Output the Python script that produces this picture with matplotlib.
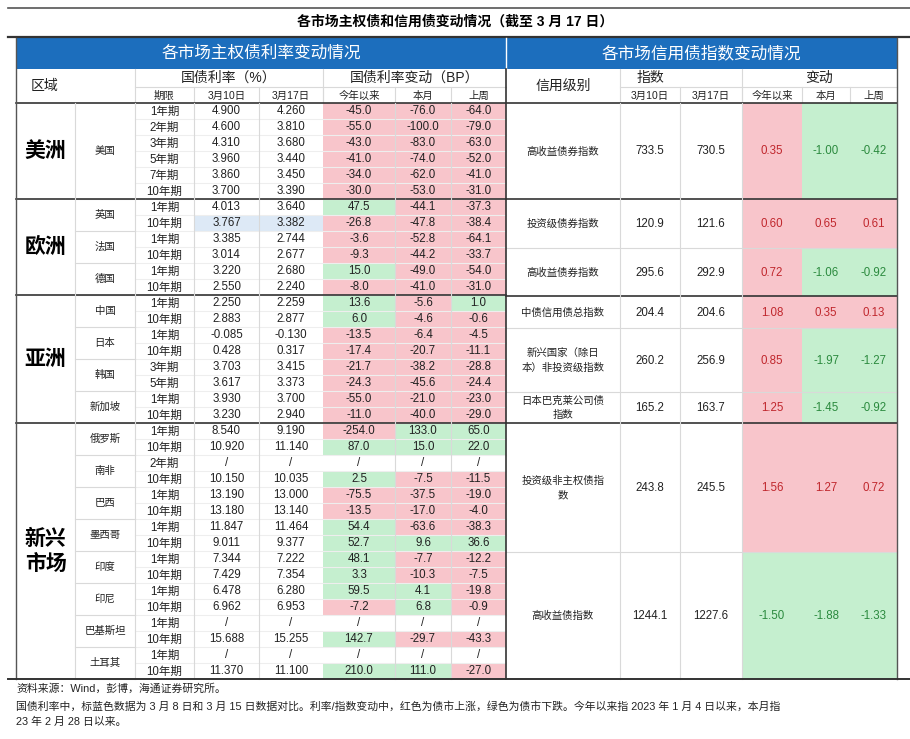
import matplotlib
matplotlib.use("Agg")
import matplotlib.pyplot as plt
from matplotlib.patches import Rectangle

plt.rcParams['font.family'] = ['Liberation Sans', 'Noto Sans CJK SC', 'DejaVu Sans']

# ---------------- data ----------------
regions = ["美洲", "欧洲", "亚洲", "新兴\n市场"]
region_rows = [6, 6, 8, 16]
countries = ["美国", "英国", "法国", "德国", "中国", "日本", "韩国", "新加坡",
             "俄罗斯", "南非", "巴西", "墨西哥", "印度", "印尼", "巴基斯坦", "土耳其"]
country_rows = [6, 2, 2, 2, 2, 2, 2, 2, 2, 2, 2, 2, 2, 2, 2, 2]
terms = ["1年期", "2年期", "3年期", "5年期", "7年期", "10年期",
         "1年期", "10年期", "1年期", "10年期", "1年期", "10年期",
         "1年期", "10年期", "1年期", "10年期", "3年期", "5年期", "1年期", "10年期",
         "1年期", "10年期", "2年期", "10年期", "1年期", "10年期", "1年期", "10年期",
         "1年期", "10年期", "1年期", "10年期", "1年期", "10年期", "1年期", "10年期"]
rate_0310 = [4.900, 4.600, 4.310, 3.960, 3.860, 3.700,
             4.013, 3.767, 3.385, 3.014, 3.220, 2.550,
             2.250, 2.883, -0.085, 0.428, 3.703, 3.617, 3.930, 3.230,
             8.540, 10.920, None, 10.150, 13.190, 13.180, 11.847, 9.011,
             7.344, 7.429, 6.478, 6.962, None, 15.688, None, 11.370]
rate_0317 = [4.260, 3.810, 3.680, 3.440, 3.450, 3.390,
             3.640, 3.382, 2.744, 2.677, 2.680, 2.240,
             2.259, 2.877, -0.130, 0.317, 3.415, 3.373, 3.700, 2.940,
             9.190, 11.140, None, 10.035, 13.000, 13.140, 11.464, 9.377,
             7.222, 7.354, 6.280, 6.953, None, 15.255, None, 11.100]
chg_ytd = [-45.0, -55.0, -43.0, -41.0, -34.0, -30.0,
           47.5, -26.8, -3.6, -9.3, 15.0, -8.0,
           13.6, 6.0, -13.5, -17.4, -21.7, -24.3, -55.0, -11.0,
           -254.0, 87.0, None, 2.5, -75.5, -13.5, 54.4, 52.7,
           48.1, 3.3, 59.5, -7.2, None, 142.7, None, 210.0]
chg_mtd = [-76.0, -100.0, -83.0, -74.0, -62.0, -53.0,
           -44.1, -47.8, -52.8, -44.2, -49.0, -41.0,
           -5.6, -4.6, -6.4, -20.7, -38.2, -45.6, -21.0, -40.0,
           133.0, 15.0, None, -7.5, -37.5, -17.0, -63.6, 9.6,
           -7.7, -10.3, 4.1, 6.8, None, -29.7, None, 111.0]
chg_wk = [-64.0, -79.0, -63.0, -52.0, -41.0, -31.0,
          -37.3, -38.4, -64.1, -33.7, -54.0, -31.0,
          1.0, -0.6, -4.5, -11.1, -28.8, -24.4, -23.0, -29.0,
          65.0, 22.0, None, -11.5, -19.0, -4.0, -38.3, 36.6,
          -12.2, -7.5, -19.8, -0.9, None, -43.3, None, -27.0]

credit_names = ["高收益债券指数", "投资级债券指数", "高收益债券指数", "中债信用债总指数",
                "新兴国家（除日\n本）非投资级指数", "日本巴克莱公司债\n指数", "投资级非主权债指\n数", "高收益债指数"]
credit_0310 = [733.5, 120.9, 295.6, 204.4, 260.2, 165.2, 243.8, 1244.1]
credit_0317 = [730.5, 121.6, 292.9, 204.6, 256.9, 163.7, 245.5, 1227.6]
credit_ytd = [0.35, 0.60, 0.72, 1.08, 0.85, 1.25, 1.56, -1.50]
credit_mtd = [-1.00, 0.65, -1.06, 0.35, -1.97, -1.45, 1.27, -1.88]
credit_wk = [-0.42, 0.61, -0.92, 0.13, -1.27, -0.92, 0.72, -1.33]

# ---------------- layout ----------------
W, H = 910, 739
fig = plt.figure(figsize=(W / 100, H / 100), dpi=100)
ax = fig.add_axes([0, 0, 1, 1])
ax.set_xlim(0, W)
ax.set_ylim(H, 0)
ax.axis('off')

BLUE = "#1c6ebd"
RED = "#f8c5cb"
GREEN = "#c5efcf"
GRID = "#d9d9d9"
RTXT = "#c0272d"
GTXT = "#2b8a3e"
FS = 8.3

XL = [16, 75, 135, 194, 259, 323, 395, 451, 506]
XR = [506, 620, 680, 742, 802, 850, 897]
Y0 = 103
RH = 16

def rect(x0, y0, x1, y1, c):
    ax.add_patch(Rectangle((x0, y0), x1 - x0, y1 - y0, facecolor=c, edgecolor='none', zorder=0))

def hline(y, x0, x1, c=GRID, lw=0.8):
    ax.plot([x0, x1], [y, y], color=c, lw=lw, zorder=2)

def vline(x, y0, y1, c=GRID, lw=0.8):
    ax.plot([x, x], [y0, y1], color=c, lw=lw, zorder=2)

def txt(x, y, s, **kw):
    d = dict(ha='center', va='center', fontsize=FS, color='#222222', zorder=3)
    d.update(kw)
    ax.text(x, y, s, **d)

# title
hline(8, 8, 910, c='#555555', lw=1.2)
txt(455, 22, "各市场主权债和信用债变动情况（截至 3 月 17 日）", fontsize=10, fontweight='bold', color='black')
hline(37, 8, 910, c='#333333', lw=1.6)

# blue headers
rect(16, 38, 897, 69, BLUE)
txt(261, 53, "各市场主权债利率变动情况", color='white', fontsize=12)
txt(701, 53, "各市场信用债指数变动情况", color='white', fontsize=12)
vline(506, 38, 69, c='white', lw=1)

# sub headers left
txt(45, 86, "区域", fontsize=10)
txt(229, 78, "国债利率（%）", fontsize=10)
txt(415, 78, "国债利率变动（BP）", fontsize=10)
for x0, x1, s in zip(XL[2:8], XL[3:9], ["期限", "3月10日", "3月17日", "今年以来", "本月", "上周"]):
    txt((x0 + x1) / 2, 96, s, fontsize=7.5)
hline(87, 135, 506)
vline(135, 69, 103); vline(323, 69, 103)
for x in XL[3:8]:
    vline(x, 87, 103)
# sub headers right
txt(563, 86, "信用级别", fontsize=10)
txt(650, 78, "指数", fontsize=10)
txt(819, 78, "变动", fontsize=10)
for x0, x1, s in zip(XR[1:6], XR[2:7], ["3月10日", "3月17日", "今年以来", "本月", "上周"]):
    txt((x0 + x1) / 2, 96, s, fontsize=7.5)
hline(87, 620, 897)
vline(620, 69, 103); vline(742, 69, 103)
for x in XR[2:6]:
    vline(x, 87, 103)
hline(103, 16, 897, c='#333333', lw=1.2)

# left body
n = len(terms)
def fmt3(v):
    return "/" if v is None else f"{v:.3f}"
def fmt1(v):
    return "/" if v is None else f"{v:.1f}"

for i in range(n):
    yt, yb = Y0 + i * RH, Y0 + (i + 1) * RH
    yc = (yt + yb) / 2 + 0.5
    for k, col in enumerate([chg_ytd, chg_mtd, chg_wk]):
        v = col[i]
        if v is not None and v != 0:
            rect(XL[5 + k], yt, XL[6 + k], yb, RED if v < 0 else GREEN)
    if i == 7:
        rect(XL[3], yt, XL[5], yb, "#dde9f6")
    txt((XL[2] + XL[3]) / 2, yc, terms[i])
    txt((XL[3] + XL[4]) / 2, yc, fmt3(rate_0310[i]))
    txt((XL[4] + XL[5]) / 2, yc, fmt3(rate_0317[i]))
    txt((XL[5] + XL[6]) / 2, yc, fmt1(chg_ytd[i]))
    txt((XL[6] + XL[7]) / 2, yc, fmt1(chg_mtd[i]))
    txt((XL[7] + XL[8]) / 2, yc, fmt1(chg_wk[i]))
    if i < n - 1:
        hline(yb, XL[2], XL[8], c='#eeeeee')

# country cells
r = 0
for c, k in zip(countries, country_rows):
    yt, yb = Y0 + r * RH, Y0 + (r + k) * RH
    txt((XL[1] + XL[2]) / 2, (yt + yb) / 2, c, fontsize=7.5)
    hline(yb, XL[1], XL[2])
    r += k
# region cells
r = 0
for g, k in zip(regions, region_rows):
    yt, yb = Y0 + r * RH, Y0 + (r + k) * RH
    txt((XL[0] + XL[1]) / 2, (yt + yb) / 2, g, fontsize=15, fontweight='bold',
        color='black', linespacing=1.3)
    r += k
    if r < n:
        hline(yb, XL[0], XL[8], c='#333333', lw=1.2)
for x in XL[1:5] + [XL[6], XL[7]]:
    vline(x, Y0, Y0 + n * RH)

# right body
bounds = [103, 199, 248, 296, 328, 392, 423, 552, 679]
for i in range(len(credit_names)):
    yt, yb = bounds[i], bounds[i + 1]
    yc = (yt + yb) / 2 + 0.5
    for k, col in enumerate([credit_ytd, credit_mtd, credit_wk]):
        v = col[i]
        rect(XR[3 + k], yt, XR[4 + k], yb, RED if v > 0 else GREEN)
        txt((XR[3 + k] + XR[4 + k]) / 2, yc, f"{v:.2f}", color=RTXT if v > 0 else GTXT)
    txt((XR[0] + XR[1]) / 2, yc, credit_names[i], fontsize=7.5, linespacing=1.5)
    txt((XR[1] + XR[2]) / 2, yc, f"{credit_0310[i]:.1f}")
    txt((XR[2] + XR[3]) / 2, yc, f"{credit_0317[i]:.1f}")
    if i < len(credit_names) - 1:
        thick = yb in (199, 296, 423)
        hline(yb, XR[0], XR[6], c='#333333' if thick else GRID, lw=1.2 if thick else 0.8)
for x in XR[1:3] + [XR[3]]:
    vline(x, 103, 679)

# outer borders
vline(16, 38, 679, c='#555555', lw=1)
vline(506, 69, 679, c='#333333', lw=1.2)
vline(897, 38, 679, c='#555555', lw=1)
hline(679, 8, 910, c='#333333', lw=1.4)

# footer
txt(16, 689, "资料来源：Wind，彭博，海通证券研究所。", ha='left', fontsize=7.8)
txt(16, 706, "国债利率中，标蓝色数据为 3 月 8 日和 3 月 15 日数据对比。利率/指数变动中，红色为债市上涨，绿色为债市下跌。今年以来指 2023 年 1 月 4 日以来，本月指",
    ha='left', fontsize=7.8)
txt(16, 722, "23 年 2 月 28 日以来。", ha='left', fontsize=7.8)

fig.savefig("out.png", dpi=100)
